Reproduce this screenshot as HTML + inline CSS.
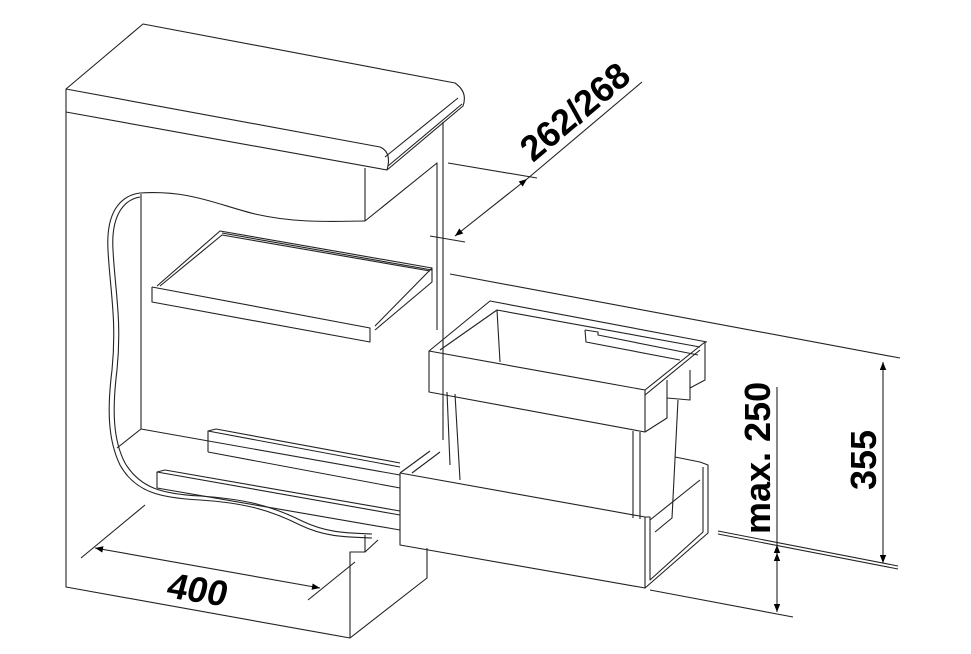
<!DOCTYPE html>
<html><head><meta charset="utf-8"><style>
html,body{margin:0;padding:0;background:#fff;}
svg{display:block;}
text{font-family:"Liberation Sans",sans-serif;font-weight:bold;fill:#000;}
</style></head><body>
<svg width="971" height="654" viewBox="0 0 971 654" xmlns="http://www.w3.org/2000/svg">
<defs>
<marker id="ar" viewBox="0 0 10 10" refX="10" refY="5" markerWidth="14" markerHeight="8" markerUnits="userSpaceOnUse" orient="auto-start-reverse"><path d="M0,1 L10,5 L0,9 z" fill="#000"/></marker>
</defs>
<g fill="none" stroke="#222" stroke-width="1.1" stroke-linejoin="round">
<path d="M66,89 L143,24 L455,83 Q468,92 463,106 L387,170"/>
<path d="M66,89 L380,147 Q392,152 387,170 L66,112 Z"/>
<path d="M385,157 L458,98"/>
<path d="M388,166 L462,104"/>
<path d="M66,112 L66,587 L350,638 L427,578 L427,548"/>
<path d="M350,638 L350,552 L365,552 L365,535"/>
<path d="M365,552 L378,540"/>
<path d="M365,168 L365,221 L437,163 L437,330"/>
<path d="M443,122 L443,440"/>
<path d="M365,221 C320,222 290,222 255,214 C215,204 190,190 140,193 C118,196 106,215 108,250 C110,290 117,320 112,370 C107,410 108,440 120,465 C135,492 160,498 200,500 C245,503 270,510 300,525 C325,537 345,537 372,538"/>
<path d="M140,197 C122,200 111,218 113,250 C115,290 122,320 117,370 C112,410 113,440 125,463 C140,488 162,494 200,496 C245,499 272,506 302,521 C327,533 347,533 372,534"/>
<path d="M141,194 L141,429 L400,475"/>
<path d="M141,429 L117,448"/>
<path d="M152,287 L152,302 L370,342 L370,328 L152,287"/>
<path d="M157,286 L220,231 L432,268 L375,326"/>
<path d="M160,286 L222,235 L430,271"/>
<path d="M222,233 L432,270"/>
<path d="M432,268 L432,282 L375,330"/>
<path d="M208,452 L208,431 L216,429 L400,463"/>
<path d="M208,431 L400,467"/>
<path d="M208,452 L400,488"/>
<path d="M157,488 L157,472 L165,470 L400,511"/>
<path d="M157,472 L400,515"/>
<path d="M157,488 L400,530"/>
<path d="M400,473 L400,545 L645,588 L645,517 L400,473"/>
<path d="M400,473 L430,451 M412,473 L440,452"/>
<path d="M645,588 L708,533 L708,465 L700,462 L675,457"/>
<path d="M645,517 L650,517 L650,580 L703,532 L703,467"/>
<path d="M650,520 L700,480"/>
<path d="M429,351 L429,392 L645,432 L645,390 Z"/>
<path d="M429,351 L490,301 L707,342"/>
<path d="M440,350 L497,310 L700,347"/>
<path d="M645,390 L705,342 L705,380 L690,388 L690,400 L667,398 L667,418 L645,432"/>
<path d="M645,395 L700,350"/>
<path d="M667,398 L667,380 M690,388 L690,370"/>
<path d="M497,310 L500,362"/>
<path d="M585,330 L598,332 L598,335 L698,355 M585,330 L586,342 L680,360"/>
<path d="M455,394 L460,480 M447,392 L450,465 M633,431 L633,518 M640,432 L640,519"/>
<path d="M678,400 L672,518 L655,532"/>
<path d="M448,163 L537,178"/>
<path d="M430,236 L465,242"/>
<path d="M455,236 L527,179" marker-start="url(#ar)" marker-end="url(#ar)"/>
<path d="M527,179 L642,82"/>
<path d="M450,274 L900,358"/>
<path d="M81,558 L145,505"/>
<path d="M308,600 L355,562"/>
<path d="M95,548 L320,588" marker-start="url(#ar)" marker-end="url(#ar)"/>
<path d="M718,531 L898,566 M718,534 L898,569"/>
<path d="M650,590 L793,617"/>
<path d="M883,362 L883,563" marker-start="url(#ar)" marker-end="url(#ar)"/>
<path d="M777,387 L777,553"/>
<path d="M777,553 L777,545" marker-end="url(#ar)"/>
<path d="M777,553 L777,612" marker-start="url(#ar)" marker-end="url(#ar)"/>
</g>
<text x="0" y="0" font-size="36" transform="translate(533,163) rotate(-40)">262/268</text>
<text x="0" y="0" font-size="36" transform="translate(165,597) rotate(9) skewX(-6)">400</text>
<text x="0" y="0" font-size="36" transform="translate(770,534) rotate(-90)">max. 250</text>
<text x="0" y="0" font-size="36" transform="translate(876,490) rotate(-90)">355</text>
</svg>
</body></html>
